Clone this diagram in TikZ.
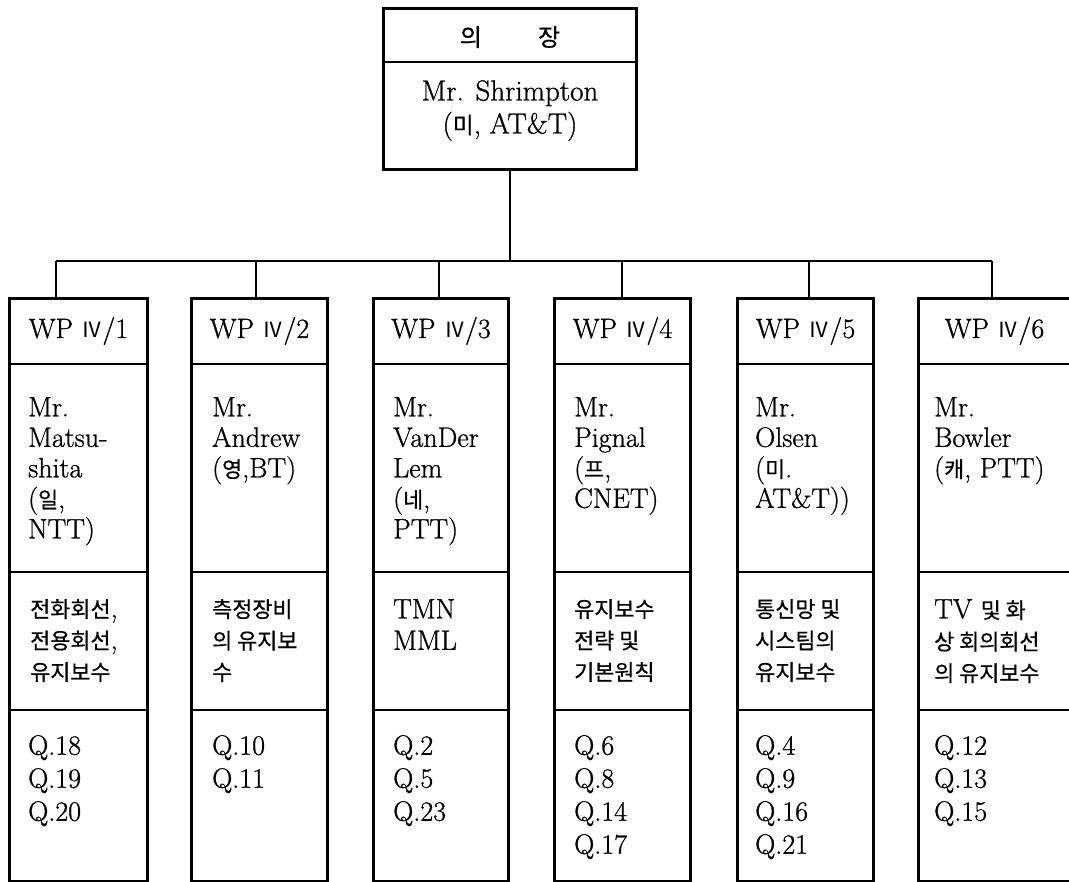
\documentclass[tikz,border=0pt]{standalone}
\usepackage{fontspec}
\setmainfont{Latin Modern Roman}[FakeBold=0.9]
\newfontfamily\cjk[Scale=0.78,FakeBold=0.6]{Noto Sans CJK KR}
\newfontfamily\cjkn[Scale=0.75]{Noto Sans CJK KR}
\newcommand\kr[1]{{\cjk #1}}
\newcommand\romiv{{\cjkn Ⅳ}}
\tikzset{
  colbox/.style={draw, line width=3pt, rectangle, inner sep=0pt},
  divline/.style={line width=2pt},
  conn/.style={line width=1.5pt},
  hdrtext/.style={inner sep=0pt, font=\fontsize{28}{32}\selectfont},
  nametext/.style={inner sep=0pt, anchor=north west, align=left, font=\fontsize{28}{30.5}\selectfont},
  topictext/.style={inner sep=0pt, anchor=north west, align=left, font=\fontsize{28}{31.5}\selectfont},
  qtext/.style={inner sep=0pt, anchor=north west, align=left, font=\fontsize{28}{33}\selectfont},
}
\begin{document}
\begin{tikzpicture}[x=1pt,y=-1pt]
\useasboundingbox (0,0) rectangle (1069,882);

% chair box
\node[colbox, anchor=north west, minimum width=253pt, minimum height=161pt] (chair) at (382,7) {};
\draw[divline] ([yshift=-55pt]chair.north west) -- ([yshift=-55pt]chair.north east);
\node[inner sep=0pt, font=\fontsize{31}{34}\selectfont] (chairhdr) at ([yshift=-30pt]chair.north) {\kr{의}\hspace{56pt}\kr{장}};
\node[inner sep=0pt, anchor=north, align=center, font=\fontsize{29}{33}\selectfont] (chairname) at ([yshift=-73pt]chair.north) {Mr. Shrimpton\\(\kr{미}, AT\&T)};

% bus
\coordinate (s1) at (56,261);
\coordinate (s2) at (256,261);
\coordinate (s3) at (439,261);
\coordinate (s4) at (622,261);
\coordinate (s5) at (809,261);
\coordinate (s6) at (992,261);
\draw[conn] (chair.south) -- (chair.south |- s1);
\draw[conn] (s1) -- (s6);

% columns
\foreach \i/\L/\W in {1/8/138, 2/190/136, 3/372/135, 4/553/136, 5/736/136, 6/917/152}{
  \node[colbox, anchor=north west, minimum width=\W pt, minimum height=583pt] (c\i) at (\L,297) {};
  \draw[divline] ([yshift=-67pt]c\i.north west) -- ([yshift=-67pt]c\i.north east);
  \draw[divline] ([yshift=-275pt]c\i.north west) -- ([yshift=-275pt]c\i.north east);
  \draw[divline] ([yshift=-413pt]c\i.north west) -- ([yshift=-413pt]c\i.north east);
  \draw[conn] (s\i) -- (s\i |- c\i.north);
  \node[hdrtext] (h\i) at ([yshift=-34pt]c\i.north) {WP \romiv/\i};
}

% names
\node[nametext] (n1) at ([xshift=20pt,yshift=-100pt]c1.north west) {Mr.\\Matsu-\\shita\\(\kr{일},\\NTT)};
\node[nametext] (n2) at ([xshift=22pt,yshift=-100pt]c2.north west) {Mr.\\Andrew\\(\kr{영},BT)};
\node[nametext] (n3) at ([xshift=21pt,yshift=-100pt]c3.north west) {Mr.\\VanDer\\Lem\\(\kr{네},\\PTT)};
\node[nametext] (n4) at ([xshift=21pt,yshift=-100pt]c4.north west) {Mr.\\Pignal\\(\kr{프},\\CNET)};
\node[nametext] (n5) at ([xshift=19pt,yshift=-100pt]c5.north west) {Mr.\\Olsen\\(\kr{미}.\\AT\&T))};
\node[nametext] (n6) at ([xshift=17pt,yshift=-100pt]c6.north west) {Mr.\\Bowler\\(\kr{캐}, PTT)};

% topics
\node[topictext] (t1) at ([xshift=22pt,yshift=-302pt]c1.north west) {\kr{전화회선},\\\kr{전용회선},\\\kr{유지보수}};
\node[topictext] (t2) at ([xshift=22pt,yshift=-302pt]c2.north west) {\kr{측정장비}\\\kr{의 유지보}\\\kr{수}};
\node[topictext] (t3) at ([xshift=21pt,yshift=-302pt]c3.north west) {TMN\\MML};
\node[topictext] (t4) at ([xshift=21pt,yshift=-302pt]c4.north west) {\kr{유지보수}\\\kr{전략 및}\\\kr{기본원칙}};
\node[topictext] (t5) at ([xshift=19pt,yshift=-302pt]c5.north west) {\kr{통신망 및}\\\kr{시스팀의}\\\kr{유지보수}};
\node[topictext] (t6) at ([xshift=17pt,yshift=-302pt]c6.north west) {TV \kr{및 화}\\\kr{상 회의회선}\\\kr{의 유지보수}};

% questions
\node[qtext] (q1) at ([xshift=20pt,yshift=-438pt]c1.north west) {Q.18\\Q.19\\Q.20};
\node[qtext] (q2) at ([xshift=22pt,yshift=-438pt]c2.north west) {Q.10\\Q.11};
\node[qtext] (q3) at ([xshift=21pt,yshift=-438pt]c3.north west) {Q.2\\Q.5\\Q.23};
\node[qtext] (q4) at ([xshift=21pt,yshift=-438pt]c4.north west) {Q.6\\Q.8\\Q.14\\Q.17};
\node[qtext] (q5) at ([xshift=19pt,yshift=-438pt]c5.north west) {Q.4\\Q.9\\Q.16\\Q.21};
\node[qtext] (q6) at ([xshift=17pt,yshift=-438pt]c6.north west) {Q.12\\Q.13\\Q.15};
\end{tikzpicture}
\end{document}
